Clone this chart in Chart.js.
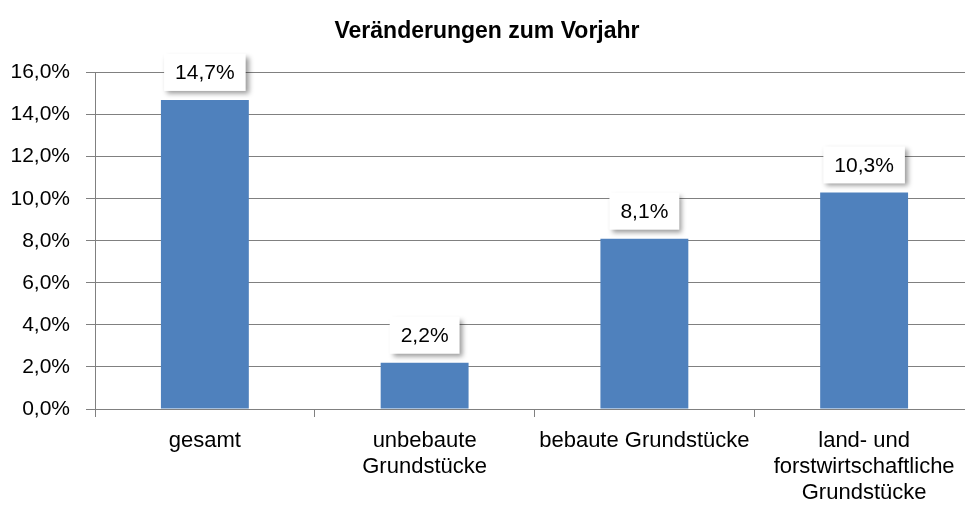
<!DOCTYPE html>
<html>
<head>
<meta charset="utf-8">
<script src="https://cdn.jsdelivr.net/npm/chart.js@4"></script>
<style>
  html,body{margin:0;padding:0;background:#fff;overflow:hidden;}
  #wrap{width:990px;height:511px;}
</style>
</head>
<body>
<div id="wrap"><canvas id="chartCanvas"></canvas></div>
<script>
const categories = [
  'gesamt',
  ['unbebaute', 'Grundstücke'],
  'bebaute Grundstücke',
  ['land- und', 'forstwirtschaftliche', 'Grundstücke']
];
const changes = [14.7, 2.2, 8.1, 10.3];
const yTicks = [0, 2, 4, 6, 8, 10, 12, 14, 16];

const FONT = '"Liberation Sans", Arial, sans-serif';
const fmt = v => v.toFixed(1).replace('.', ',') + '%';

// white value boxes with a soft shadow above each bar
const valueBoxes = {
  id: 'valueBoxes',
  afterDatasetsDraw(chart){
    const ctx = chart.ctx;
    const meta = chart.getDatasetMeta(0);
    ctx.save();
    ctx.font = '21px ' + FONT;
    meta.data.forEach((bar, i) => {
      const txt = fmt(changes[i]);
      const w = ctx.measureText(txt).width + 22;
      const h = 37;
      const x = bar.x - w/2;
      const y = bar.y - 9 - h;
      ctx.save();
      ctx.shadowColor = 'rgba(0,0,0,0.4)';
      ctx.shadowBlur = 5;
      ctx.shadowOffsetX = 3;
      ctx.shadowOffsetY = 3;
      ctx.fillStyle = '#fff';
      ctx.fillRect(x, y, w, h);
      ctx.restore();
      ctx.fillStyle = '#000';
      ctx.textAlign = 'center';
      ctx.textBaseline = 'middle';
      ctx.fillText(txt, bar.x, y + h/2 + 1);
    });
    ctx.restore();
  }
};

new Chart(document.getElementById('chartCanvas'), {
  type: 'bar',
  data: {
    labels: categories,
    datasets: [{
      data: changes,
      backgroundColor: '#4F81BD',
      barPercentage: 0.4,
      categoryPercentage: 1
    }]
  },
  options: {
    responsive: true,
    maintainAspectRatio: false,
    animation: false,
    layout: { padding: { left: 0, right: 16, top: 0, bottom: 0 } },
    plugins: {
      legend: { display: false },
      tooltip: { enabled: false },
      title: {
        display: true,
        text: 'Veränderungen zum Vorjahr',
        color: '#000',
        font: { family: FONT, size: 23, weight: 'bold', lineHeight: 1.2 },
        padding: { top: 18, bottom: 27 }
      }
    },
    scales: {
      x: {
        grid: { display: true, drawOnChartArea: false, color: '#808080', tickLength: 8, offset: true },
        border: { display: false },
        ticks: {
          color: '#000', maxRotation: 0, autoSkip: false, padding: 11,
          font: { family: FONT, size: 22, lineHeight: 1.18 }
        },
        afterFit(scale){ scale.height = 102; }
      },
      y: {
        min: 0, max: 16,
        afterBuildTicks(scale){ scale.ticks = yTicks.map(v => ({ value: v })); },
        grid: { color: '#808080', tickLength: 9 },
        border: { display: true, color: '#808080' },
        ticks: {
          color: '#000', padding: 16,
          font: { family: FONT, size: 21 },
          callback: v => fmt(v)
        },
        afterFit(scale){ scale.width = 95; }
      }
    }
  },
  plugins: [valueBoxes]
});
</script>
</body>
</html>
